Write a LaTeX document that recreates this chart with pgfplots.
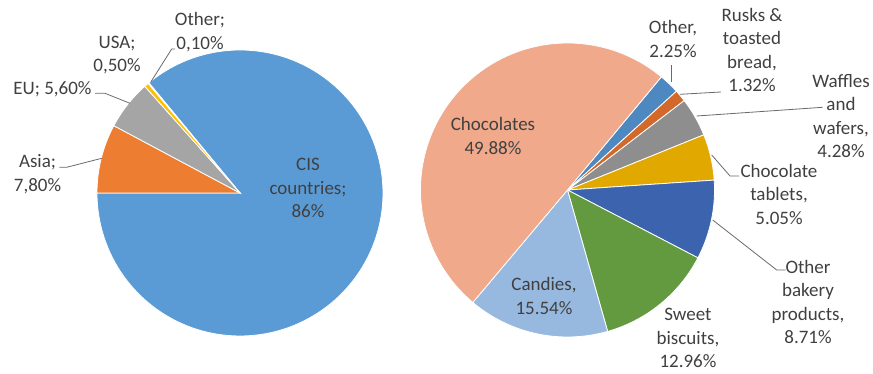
\documentclass[border=0pt]{standalone}
\usepackage{pgfplots}
\pgfplotsset{compat=1.18}
\usepackage{fontspec}
\setmainfont{Carlito}
\definecolor{Lblue}{HTML}{5B9BD5}
\definecolor{Lorange}{HTML}{ED7D31}
\definecolor{Lgray}{HTML}{A5A5A5}
\definecolor{Lyellow}{HTML}{FFC000}
\definecolor{Lother}{HTML}{4472C4}
\definecolor{Rother}{HTML}{4E88C0}
\definecolor{Rrusk}{HTML}{D2692B}
\definecolor{Rwaffle}{HTML}{8E8E8E}
\definecolor{Rtab}{HTML}{E1A900}
\definecolor{Rbakery}{HTML}{3C64AE}
\definecolor{Rbisc}{HTML}{63993F}
\definecolor{Rcandy}{HTML}{97B9E0}
\definecolor{Rchoc}{HTML}{F0A98B}
\definecolor{txt}{HTML}{404040}
\definecolor{lead}{HTML}{6A6A6A}
\tikzset{lbl/.style={font=\fontsize{19}{23.5}\selectfont, text=txt, align=center, inner sep=0pt},
  leader/.style={draw=lead, line width=0.8pt, mark=none}}
\begin{document}
\begin{tikzpicture}
\begin{axis}[width=873pt,height=374pt,scale only axis,
  xmin=0,xmax=873,ymin=0,ymax=374,hide axis,clip=false]
% ---- left pie: share of exports (%), clockwise from 129.6 deg
\def\cum{0}
\foreach \p/\c in {86/Lblue,7.8/Lorange,5.6/Lgray,0.5/Lyellow,0.1/Lother}{
  \pgfmathsetmacro\a{129.6-3.6*\cum}
  \pgfmathsetmacro\b{\a-3.6*\p}
  \edef\tmp{\noexpand\addplot[fill=\c,draw=white,line width=0.8pt,domain=\b:\a,samples=150,variable=\noexpand\t]
    ({240+143*cos(\noexpand\t)},{181+143*sin(\noexpand\t)}) -- (axis cs:240,181) -- cycle;}
  \tmp
  \pgfmathsetmacro\nc{\cum+\p}\xdef\cum{\nc}
}
% ---- right pie: product structure (%), clockwise from 50.3 deg
\def\cum{0}
\foreach \p/\c in {2.25/Rother,1.32/Rrusk,4.28/Rwaffle,5.05/Rtab,8.71/Rbakery,12.96/Rbisc,15.54/Rcandy,49.88/Rchoc}{
  \pgfmathsetmacro\a{50.3-3.6*\cum}
  \pgfmathsetmacro\b{\a-3.6*\p}
  \edef\tmp{\noexpand\addplot[fill=\c,draw=white,line width=0.8pt,domain=\b:\a,samples=150,variable=\noexpand\t]
    ({567.5+147*cos(\noexpand\t)},{184+147*sin(\noexpand\t)}) -- (axis cs:567.5,184) -- cycle;}
  \tmp
  \pgfmathsetmacro\nc{\cum+\p}\xdef\cum{\nc}
}
% ---- leader lines
\addplot[leader] coordinates {(175,325) (171.7,325) (151,292.3)};
\addplot[leader] coordinates {(95,280.7) (105,280.7) (130,270.7)};
\addplot[leader] coordinates {(59.3,206.7) (66.7,206.7) (101.7,215.7)};
\addplot[leader] coordinates {(671,309) (671,292)};
\addplot[leader] coordinates {(721,282) (680,279.7)};
\addplot[leader] coordinates {(822.7,266.7) (696.7,258)};
\addplot[leader] coordinates {(739,198) (730,198) (711.7,219)};
\addplot[leader] coordinates {(785.7,104) (776.7,104) (712.7,154)};
% ---- labels
\node[lbl] at (axis cs:308,186) {CIS\\countries;\\86\%};
\node[lbl] at (axis cs:37.5,200) {Asia;\\7,80\%};
\node[lbl] at (axis cs:52.5,285) {EU; 5,60\%};
\node[lbl] at (axis cs:117,319) {USA;\\0,50\%};
\node[lbl] at (axis cs:200,342) {Other;\\0,10\%};
\node[lbl] at (axis cs:493,238) {Chocolates\\49.88\%};
\node[lbl] at (axis cs:544,78) {Candies,\\15.54\%};
\node[lbl] at (axis cs:688,36) {Sweet\\biscuits,\\12.96\%};
\node[lbl] at (axis cs:808,72) {Other\\bakery\\products,\\8.71\%};
\node[lbl] at (axis cs:779,180) {Chocolate\\tablets,\\5.05\%};
\node[lbl] at (axis cs:841,258) {Waffles\\and\\wafers,\\4.28\%};
\node[lbl] at (axis cs:752,324) {Rusks \&\\toasted\\bread,\\1.32\%};
\node[lbl] at (axis cs:673,335) {Other,\\2.25\%};
\end{axis}
\path[use as bounding box] (current axis.south west) rectangle (current axis.north east);
\end{tikzpicture}
\end{document}
